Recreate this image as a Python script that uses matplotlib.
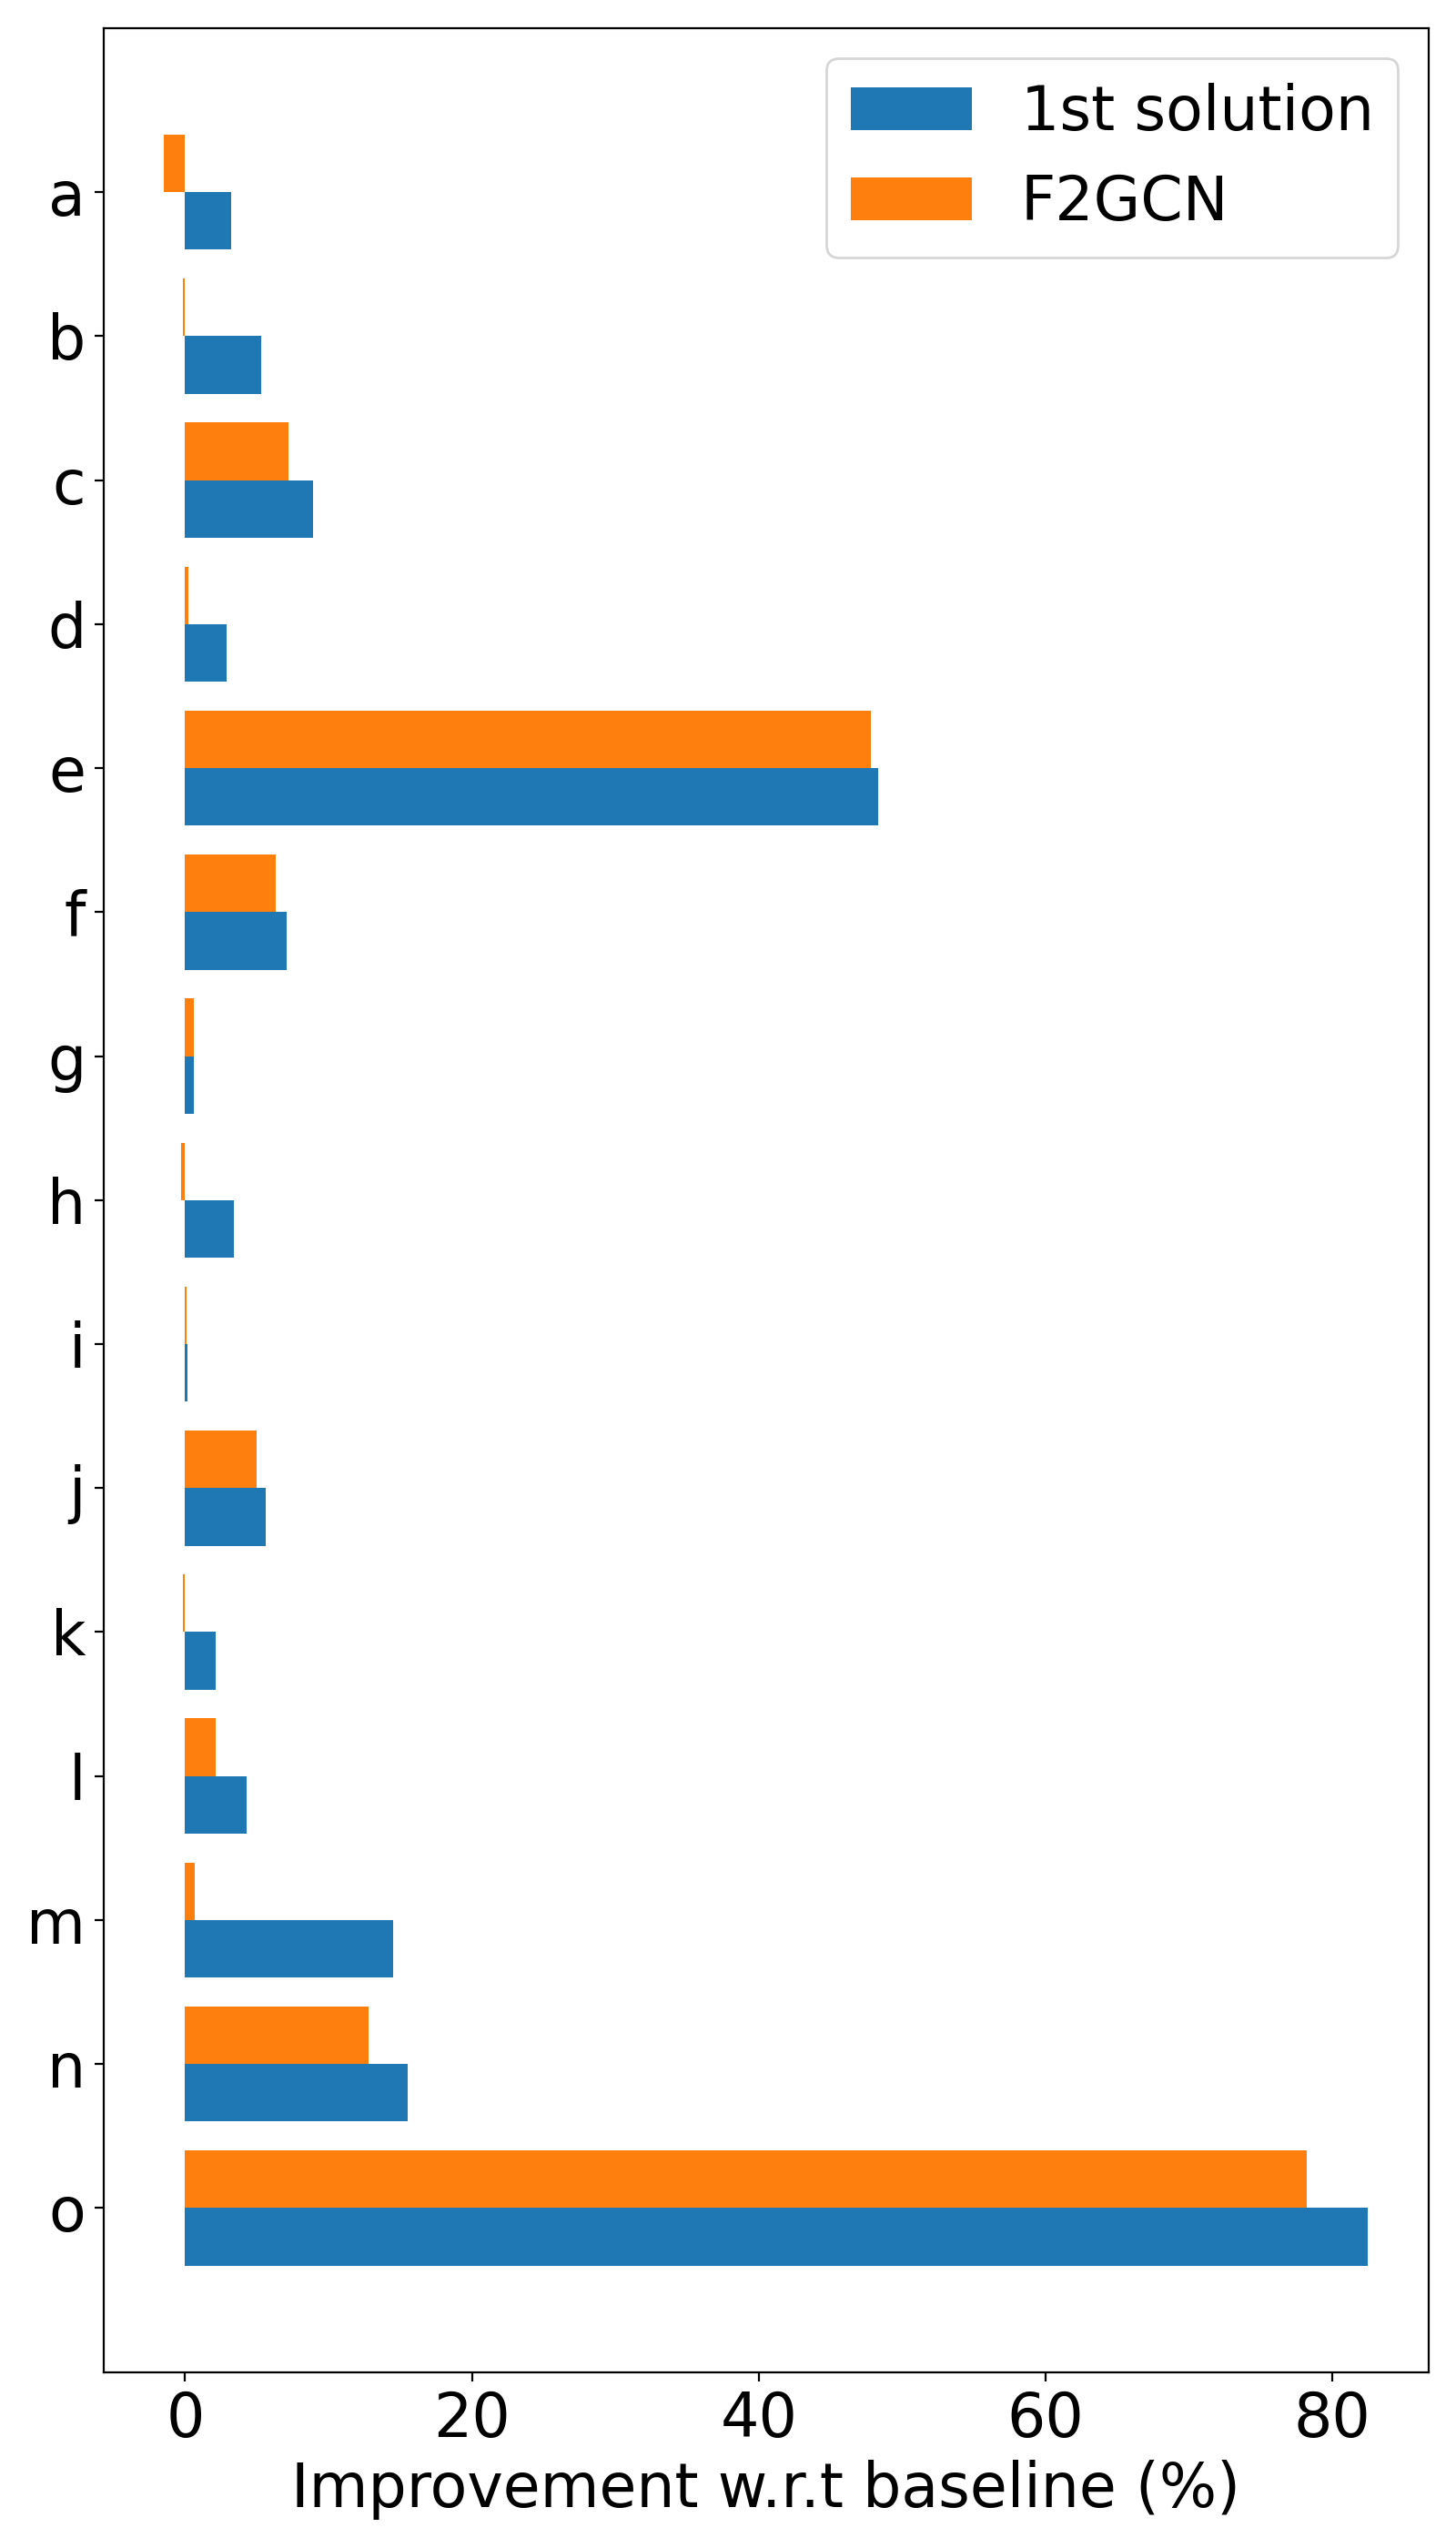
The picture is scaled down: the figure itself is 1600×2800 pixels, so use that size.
import numpy as np
import matplotlib
matplotlib.use('Agg')
import matplotlib.pyplot as plt

labels = ['a', 'b', 'c', 'd', 'e', 'f', 'g', 'h', 'i', 'j', 'k', 'l', 'm', 'n', 'o']
first_solution = [3.2, 5.3, 8.9, 2.9, 48.3, 7.05, 0.63, 3.4, 0.19, 5.65, 2.1, 4.3, 14.5, 15.5, 82.5]
f2gcn = [-1.5, -0.13, 7.2, 0.2, 47.8, 6.3, 0.63, -0.3, 0.13, 5.0, -0.13, 2.15, 0.7, 12.8, 78.2]

plt.rcParams['font.size'] = 24

fig, ax = plt.subplots(figsize=(8, 14), dpi=200)
y = np.arange(len(labels))
width = 0.4

ax.barh(y + width / 2, first_solution, width, label='1st solution')
ax.barh(y - width / 2, f2gcn, width, label='F2GCN')

ax.set_yticks(y)
ax.set_yticklabels(labels)
ax.invert_yaxis()
ax.set_xlabel('Improvement w.r.t baseline (%)')
ax.legend(loc='upper right')

plt.subplots_adjust(left=0.071, right=0.981, top=0.989, bottom=0.069)
plt.savefig('out.png', dpi=200)
